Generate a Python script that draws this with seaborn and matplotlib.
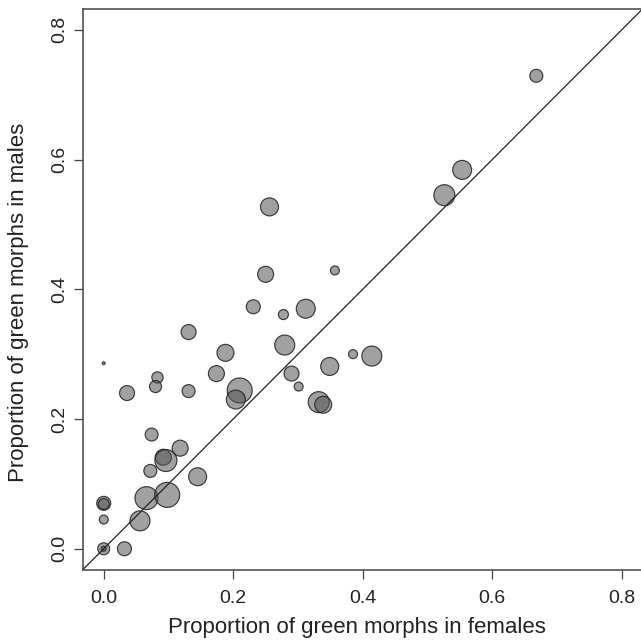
import matplotlib
matplotlib.use("Agg")
import matplotlib.pyplot as plt
import seaborn as sns
import pandas as pd

# proportion of green morphs per population
females = [0.000, 0.083, 0.080, 0.036, 0.131, 0.174, 0.074, 0.118, 0.092, 0.096,
           0.072, 0.145, 0.066, 0.098, 0.000, 0.000, 0.000, 0.056, 0.000, 0.000,
           0.032, 0.250, 0.357, 0.231, 0.2775, 0.312, 0.131, 0.2795, 0.188, 0.349,
           0.290, 0.301, 0.210, 0.204, 0.332, 0.339, 0.256, 0.414, 0.385, 0.668,
           0.5535, 0.526]
males = [0.286, 0.264, 0.250, 0.240, 0.243, 0.270, 0.176, 0.155, 0.141, 0.136,
         0.120, 0.111, 0.078, 0.083, 0.070, 0.069, 0.045, 0.043, 0.000, 0.000,
         0.000, 0.423, 0.429, 0.373, 0.361, 0.370, 0.334, 0.314, 0.302, 0.281,
         0.270, 0.250, 0.244, 0.230, 0.226, 0.222, 0.527, 0.297, 0.300, 0.729,
         0.584, 0.545]
# sample size per population (bubble area)
n_sampled = [2, 32, 36, 56, 42, 64, 42, 64, 64, 121,
             42, 81, 132, 156, 49, 30, 20, 100, 36, 6,
             49, 64, 20, 49, 25, 90, 56, 100, 72, 81,
             56, 20, 156, 90, 110, 72, 81, 100, 20, 42,
             90, 110]
tick_vals = [0.0, 0.2, 0.4, 0.6, 0.8]
tick_labels = ["0.0", "0.2", "0.4", "0.6", "0.8"]

df = pd.DataFrame({"female": females, "male": males, "n": n_sampled})

sns.set_style("ticks")
plt.rcParams["font.family"] = ["Liberation Sans", "DejaVu Sans"]

fig = plt.figure(figsize=(6.41, 6.42), dpi=100)
ax = fig.add_axes([83 / 641, 72.5 / 642, 559.5 / 641, 560.5 / 642])

nmax = 160
sns.scatterplot(data=df, x="female", y="male", size="n",
                sizes=(0, 2.0736 * nmax), size_norm=(0, nmax),
                legend=False, ax=ax, color="#505050", linewidth=0.85)
pts = ax.collections[0]
pts.set_facecolor((0.33, 0.33, 0.33, 0.55))
pts.set_edgecolor((0.12, 0.12, 0.12, 0.85))

# 1:1 line
ax.axline((0, 0), slope=1, color="#222222", lw=0.9)

ax.set_xlim(-0.032, 0.832)
ax.set_ylim(-0.032, 0.832)
ax.set_xticks(tick_vals)
ax.set_yticks(tick_vals)
ax.set_xticklabels(tick_labels)
ax.set_yticklabels(tick_labels, rotation=90, va="center")
ax.tick_params(axis="both", length=6.5, width=0.9, color="#444444",
               labelsize=14, labelcolor="#222222")
ax.tick_params(axis="x", pad=8)
ax.tick_params(axis="y", pad=4)

for s in ax.spines.values():
    s.set_color("#444444")
    s.set_linewidth(1.1)

ax.set_xlabel("Proportion of green morphs in females", fontsize=16,
              color="#222222")
ax.set_ylabel("Proportion of green morphs in males", fontsize=16,
              color="#222222")
ax.xaxis.set_label_coords(0.489, -0.1026)
ax.xaxis.label.set_verticalalignment("center")
ax.yaxis.set_label_coords(-0.116, 0.477)
ax.yaxis.label.set_verticalalignment("center")

fig.savefig("out.png", dpi=100)
